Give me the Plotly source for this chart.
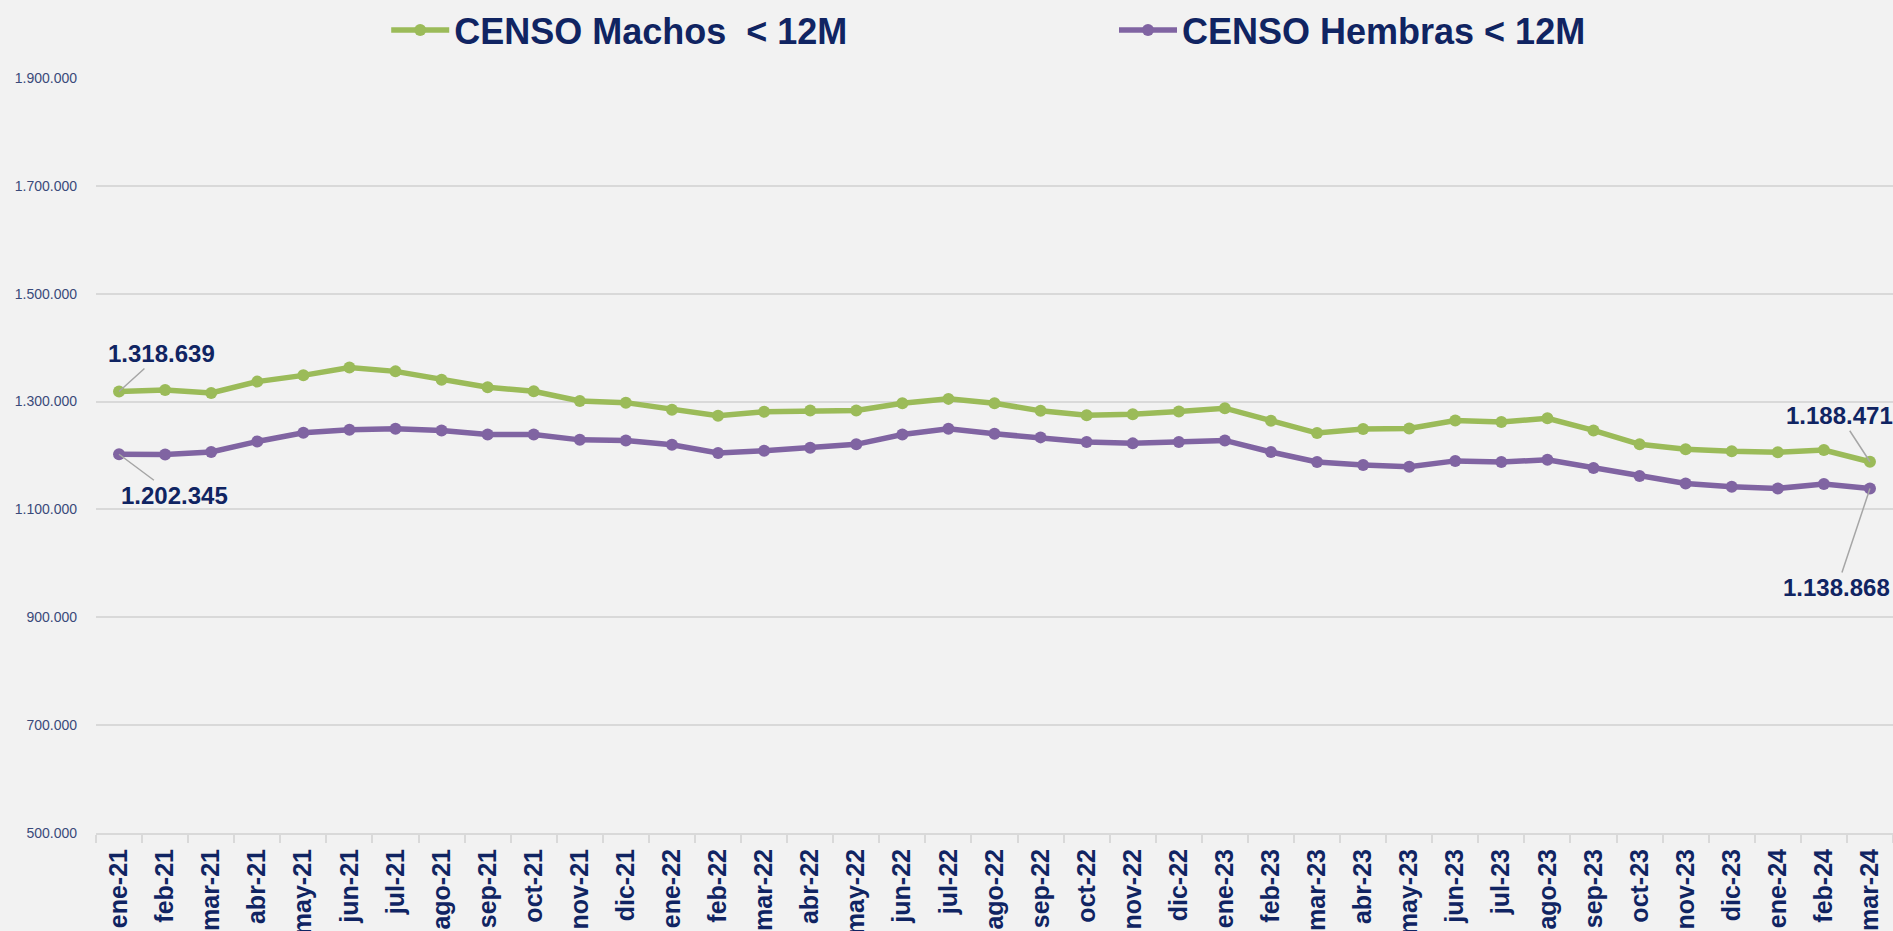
import plotly.graph_objects as go

months = ["ene-21", "feb-21", "mar-21", "abr-21", "may-21", "jun-21", "jul-21", "ago-21", "sep-21", "oct-21",
          "nov-21", "dic-21", "ene-22", "feb-22", "mar-22", "abr-22", "may-22", "jun-22", "jul-22", "ago-22",
          "sep-22", "oct-22", "nov-22", "dic-22", "ene-23", "feb-23", "mar-23", "abr-23", "may-23", "jun-23",
          "jul-23", "ago-23", "sep-23", "oct-23", "nov-23", "dic-23", "ene-24", "feb-24", "mar-24"]

machos = [1318639, 1321500, 1316000, 1337000, 1348600, 1363000, 1356000, 1340600, 1326400, 1319000,
          1301000, 1298000, 1285000, 1273600, 1281000, 1283400, 1283400, 1297000, 1305000, 1297000,
          1282800, 1274800, 1276600, 1281500, 1287700, 1264500, 1241600, 1249000, 1250000, 1265000,
          1262000, 1269000, 1246500, 1220700, 1211400, 1207700, 1206000, 1210000, 1188471]

hembras = [1202345, 1201800, 1206500, 1226000, 1242000, 1247700, 1249600, 1246500, 1239000, 1239000,
           1229000, 1228000, 1219800, 1204700, 1209000, 1214500, 1220700, 1239000, 1249600, 1240300,
           1233600, 1225000, 1222500, 1225000, 1228000, 1206500, 1188000, 1182500, 1179000, 1190000,
           1188000, 1192000, 1177000, 1162000, 1148000, 1142000, 1139000, 1147000, 1138868]

name_m = "CENSO Machos\u00a0 < 12M"
name_h = "CENSO Hembras < 12M"

NAVY = "#102462"
GREEN = "#9BBB59"
PURPLE = "#8064A2"
GRID = "#D9D9D9"
BG = "#F2F2F2"

fig = go.Figure()
fig.add_trace(go.Scatter(x=months, y=machos, name=name_m, mode="lines+markers",
                         line=dict(color=GREEN, width=5.5), marker=dict(color=GREEN, size=12),
                         legend="legend", showlegend=True))
fig.add_trace(go.Scatter(x=months, y=hembras, name=name_h, mode="lines+markers",
                         line=dict(color=PURPLE, width=5.5), marker=dict(color=PURPLE, size=12),
                         legend="legend2", showlegend=True))

def lab(i, series, ax, ay):
    return dict(x=months[i], y=series[i], xref="x", yref="y",
                text=f"{series[i]:,}".replace(",", "."),
                showarrow=True, arrowhead=0, arrowwidth=1.5, arrowcolor="#A6A6A6",
                ax=ax, ay=ay, standoff=0, xanchor="center", yanchor="middle",
                font=dict(family="Liberation Sans", size=24, color=NAVY, weight="bold"))

annots = [lab(0, machos, 42, -38), lab(0, hembras, 55, 41),
          lab(len(months) - 1, machos, -30, -46), lab(len(months) - 1, hembras, -33, 99)]

legfont = dict(family="Liberation Sans", size=36, color=NAVY, weight="bold")

fig.update_layout(
    width=1893, height=931,
    paper_bgcolor=BG, plot_bgcolor=BG,
    margin=dict(l=96, r=0, t=77, b=98),
    separators=",.",
    showlegend=True,
    annotations=annots,
    legend=dict(x=0.1615, y=1.064, xanchor="left", yanchor="middle", orientation="h",
                font=legfont, itemwidth=58, bgcolor="rgba(0,0,0,0)"),
    legend2=dict(x=0.5665, y=1.064, xanchor="left", yanchor="middle", orientation="h",
                 font=legfont, itemwidth=58, bgcolor="rgba(0,0,0,0)"),
    xaxis=dict(type="category", range=[-0.5, len(months) - 0.5], showgrid=False,
               showline=True, linecolor=GRID, linewidth=2,
               ticks="outside", tickson="boundaries", ticklen=8, tickwidth=2, tickcolor=GRID,
               tickangle=-90, ticklabelstandoff=4, automargin=False,
               tickfont=dict(family="Liberation Sans", size=25, color=NAVY, weight="bold")),
    yaxis=dict(range=[500000, 1900000], tick0=500000, dtick=200000, tickformat=",d",
               showgrid=True, gridcolor=GRID, gridwidth=2, zeroline=False,
               ticklabelstandoff=18, automargin=False,
               tickfont=dict(family="Liberation Sans Narrow, Liberation Sans", size=14, color="#3A4A7A")),
)

fig.write_html("out.html", config={"displayModeBar": False},
               post_script="document.body.style.margin='0';document.body.style.background='#F2F2F2';document.body.style.overflow='hidden';")
